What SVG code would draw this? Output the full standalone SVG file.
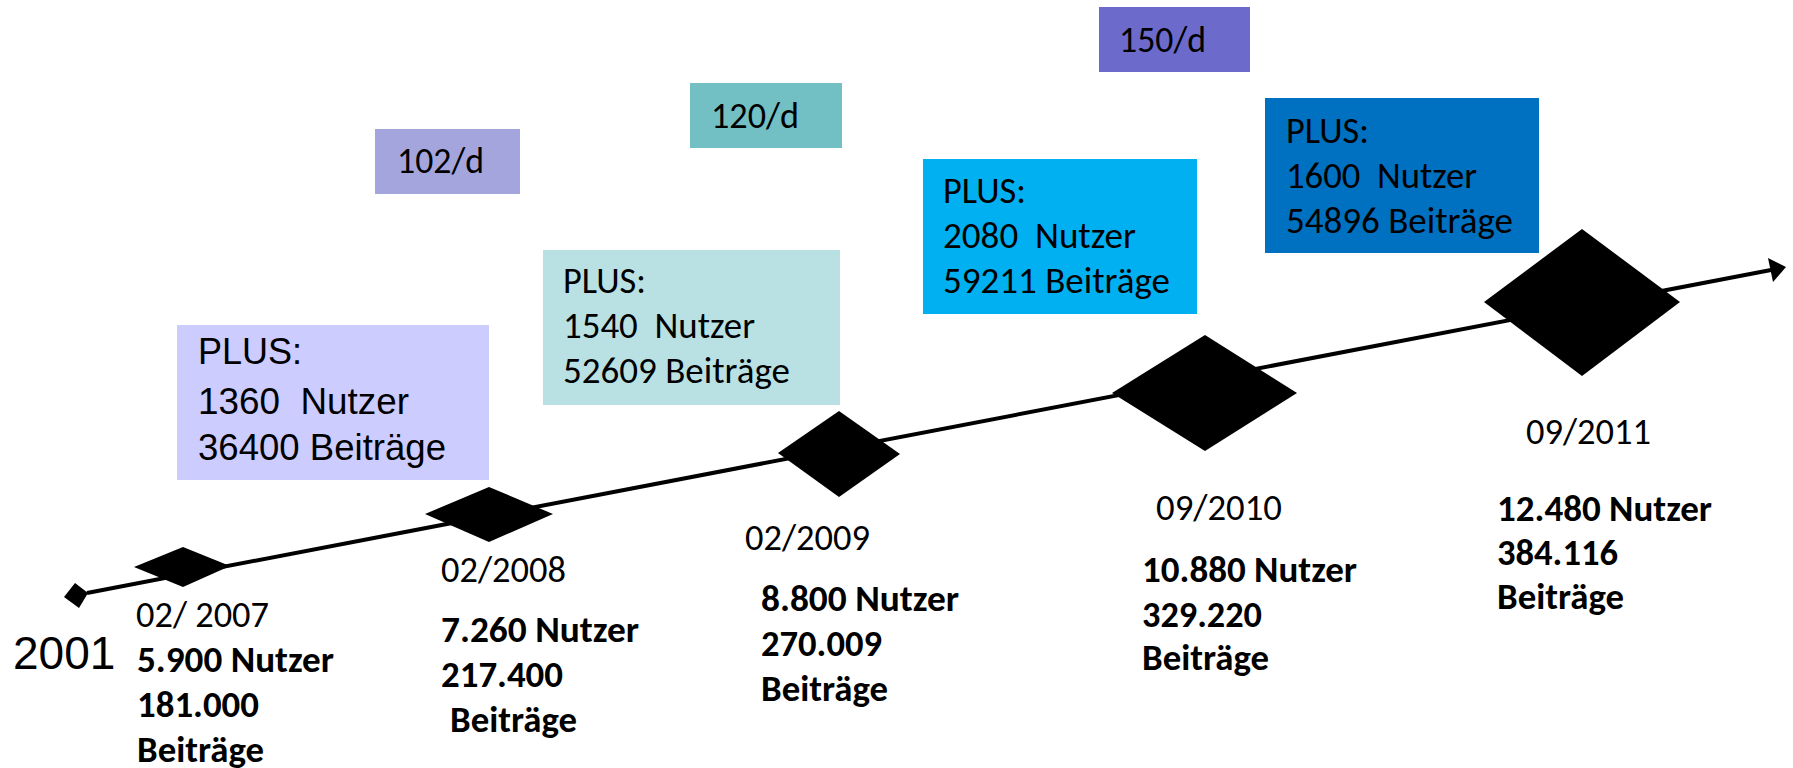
<svg xmlns="http://www.w3.org/2000/svg" width="1793" height="768" viewBox="0 0 1793 768">
<style>
.c{font-family:Carlito,Lato,"Liberation Sans",sans-serif;font-size:36px;fill:#000}
.b{font-family:Carlito,Lato,"Liberation Sans",sans-serif;font-size:36px;font-weight:bold;fill:#000}
.a{font-family:"Liberation Sans",Arial,sans-serif;font-size:36px;fill:#000}
.d{fill:#000}
</style>
<rect width="1793" height="768" fill="#fff"/>
<g id="connectors">
<line x1="87" y1="593" x2="1771" y2="270" stroke="#000" stroke-width="4"/>
<polygon points="1786,267 1768,258 1773,282" fill="#000"/>
</g>
<g id="m2001">
<polygon class="d" points="64,597 75,583 88,593 79,608"/>
<text class="a" x="13" y="669" style="font-size:46px">2001</text>
</g>
<g id="m2007">
<polygon class="d" points="134,567 183,547 230,566 183,587"/>
<text class="c" x="136" y="627" textLength="133" lengthAdjust="spacingAndGlyphs">02/ 2007</text>
<text class="b" x="137" y="672" textLength="197" lengthAdjust="spacingAndGlyphs">5.900 Nutzer</text>
<text class="b" x="137" y="717" textLength="122" lengthAdjust="spacingAndGlyphs">181.000</text>
<text class="b" x="137" y="762" textLength="127" lengthAdjust="spacingAndGlyphs">Beiträge</text>
</g>
<g id="m2008">
<polygon class="d" points="425,514 489,487 553,514 489,542"/>
<text class="c" x="441" y="582" textLength="125" lengthAdjust="spacingAndGlyphs">02/2008</text>
<text class="b" x="441" y="642" textLength="198" lengthAdjust="spacingAndGlyphs">7.260 Nutzer</text>
<text class="b" x="441" y="687" textLength="122" lengthAdjust="spacingAndGlyphs">217.400</text>
<text class="b" x="450" y="732" textLength="127" lengthAdjust="spacingAndGlyphs">Beiträge</text>
</g>
<g id="m2009">
<polygon class="d" points="778,453 839,411 900,454 839,497"/>
<text class="c" x="745" y="550" textLength="125" lengthAdjust="spacingAndGlyphs">02/2009</text>
<text class="b" x="761" y="611" textLength="198" lengthAdjust="spacingAndGlyphs">8.800 Nutzer</text>
<text class="b" x="761" y="656" textLength="121" lengthAdjust="spacingAndGlyphs">270.009</text>
<text class="b" x="761" y="701" textLength="127" lengthAdjust="spacingAndGlyphs">Beiträge</text>
</g>
<g id="m2010">
<polygon class="d" points="1112,393 1205,335 1297,393 1205,451"/>
<text class="c" x="1156" y="520" textLength="126" lengthAdjust="spacingAndGlyphs">09/2010</text>
<text class="b" x="1142" y="582" textLength="215" lengthAdjust="spacingAndGlyphs">10.880 Nutzer</text>
<text class="b" x="1142" y="627" textLength="120" lengthAdjust="spacingAndGlyphs">329.220</text>
<text class="b" x="1142" y="670" textLength="127" lengthAdjust="spacingAndGlyphs">Beiträge</text>
</g>
<g id="m2011">
<polygon class="d" points="1484,302 1582,229 1680,302 1582,376"/>
<text class="c" x="1526" y="444" textLength="125" lengthAdjust="spacingAndGlyphs">09/2011</text>
<text class="b" x="1497" y="521" textLength="215" lengthAdjust="spacingAndGlyphs">12.480 Nutzer</text>
<text class="b" x="1497" y="565" textLength="121" lengthAdjust="spacingAndGlyphs">384.116</text>
<text class="b" x="1497" y="609" textLength="127" lengthAdjust="spacingAndGlyphs">Beiträge</text>
</g>
<g id="plus1360">
<rect x="177" y="325" width="312" height="155" fill="#CCCCFF"/>
<text class="a" x="198" y="364">PLUS:</text>
<text class="a" x="198" y="414" xml:space="preserve" textLength="211" lengthAdjust="spacingAndGlyphs">1360  Nutzer</text>
<text class="a" x="198" y="460" textLength="248" lengthAdjust="spacingAndGlyphs">36400 Beiträge</text>
</g>
<g id="rate102">
<rect x="375" y="129" width="145" height="65" fill="#A5A5DE"/>
<text class="c" x="397" y="173" textLength="87" lengthAdjust="spacingAndGlyphs">102/d</text>
</g>
<g id="plus1540">
<rect x="543" y="250" width="297" height="155" fill="#B9E0E3"/>
<text class="c" x="563" y="293" textLength="83" lengthAdjust="spacingAndGlyphs">PLUS:</text>
<text class="c" x="563" y="338" xml:space="preserve" textLength="192" lengthAdjust="spacingAndGlyphs">1540  Nutzer</text>
<text class="c" x="563" y="383" textLength="227" lengthAdjust="spacingAndGlyphs">52609 Beiträge</text>
</g>
<g id="rate120">
<rect x="690" y="83" width="152" height="65" fill="#72BFC4"/>
<text class="c" x="711" y="128" textLength="88" lengthAdjust="spacingAndGlyphs">120/d</text>
</g>
<g id="plus2080">
<rect x="923" y="159" width="274" height="155" fill="#00B0F0"/>
<text class="c" x="943" y="203" textLength="83" lengthAdjust="spacingAndGlyphs">PLUS:</text>
<text class="c" x="943" y="248" xml:space="preserve" textLength="193" lengthAdjust="spacingAndGlyphs">2080  Nutzer</text>
<text class="c" x="943" y="293" textLength="227" lengthAdjust="spacingAndGlyphs">59211 Beiträge</text>
</g>
<g id="rate150">
<rect x="1099" y="7" width="151" height="65" fill="#6C6BCC"/>
<text class="c" x="1119" y="52" textLength="87" lengthAdjust="spacingAndGlyphs">150/d</text>
</g>
<g id="plus1600">
<rect x="1265" y="98" width="274" height="155" fill="#0070C0"/>
<text class="c" x="1286" y="143" textLength="83" lengthAdjust="spacingAndGlyphs">PLUS:</text>
<text class="c" x="1286" y="188" xml:space="preserve" textLength="191" lengthAdjust="spacingAndGlyphs">1600  Nutzer</text>
<text class="c" x="1286" y="233" textLength="227" lengthAdjust="spacingAndGlyphs">54896 Beiträge</text>
</g>
</svg>
